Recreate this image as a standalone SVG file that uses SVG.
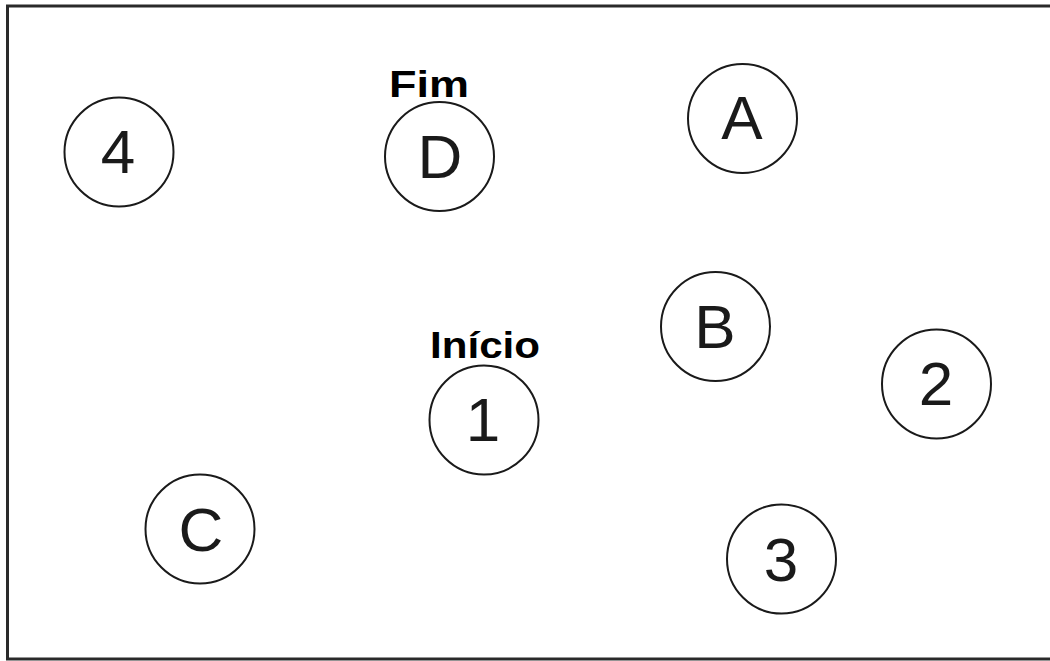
<svg xmlns="http://www.w3.org/2000/svg" width="1050" height="661" viewBox="0 0 1050 661">
<style>
.n circle{fill:#fff;stroke:#1a1a1a;stroke-width:2}
.n text{font-family:"Liberation Sans",Arial,sans-serif;font-size:62px;fill:#1a1a1a;text-anchor:middle}
.lbl{font-family:"Liberation Sans",Arial,sans-serif;font-size:37px;font-weight:bold;fill:#000}
</style>
<rect x="0" y="0" width="1050" height="661" fill="#fff"/>
<path d="M1052 6 H7.5 V659 H1052" fill="none" stroke="#2a2a2a" stroke-width="3"/>
<g id="connectors"/>
<g id="n4" class="n"><circle cx="119" cy="152" r="54.5"/><text x="118" y="173">4</text></g>
<g id="nD" class="n"><circle cx="439.5" cy="156.5" r="54.5"/><text x="440" y="178">D</text></g>
<g id="nA" class="n"><circle cx="742.5" cy="118.5" r="54.5"/><text x="742" y="139">A</text></g>
<g id="nB" class="n"><circle cx="715.5" cy="326.5" r="54.5"/><text x="715" y="348">B</text></g>
<g id="n2" class="n"><circle cx="936.5" cy="384" r="54.5"/><text x="936" y="405">2</text></g>
<g id="n1" class="n"><circle cx="484" cy="420" r="54.5"/><text x="483" y="441">1</text></g>
<g id="nC" class="n"><circle cx="200" cy="529" r="54.5"/><text x="201" y="551">C</text></g>
<g id="n3" class="n"><circle cx="781.5" cy="559" r="54.5"/><text x="781" y="581">3</text></g>
<text id="fim" class="lbl" x="389" y="97" textLength="80" lengthAdjust="spacingAndGlyphs">Fim</text>
<text id="inicio" class="lbl" x="430" y="358" textLength="110" lengthAdjust="spacingAndGlyphs">Início</text>
</svg>
